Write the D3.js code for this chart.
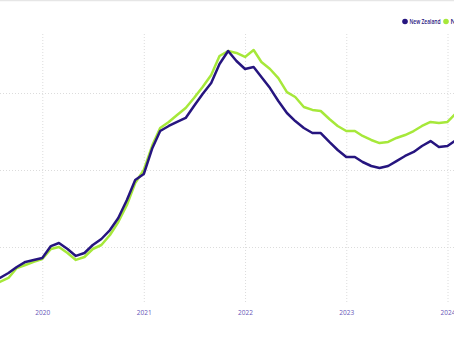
<!DOCTYPE html>
<html>
<head>
<meta charset="utf-8">
<script src="https://cdn.jsdelivr.net/npm/d3@7/dist/d3.min.js"></script>
<style>
  html, body { margin: 0; padding: 0; background: #fff; overflow: hidden; }
  svg { display: block; font-family: "Open Sans", "Noto Sans", sans-serif; }
</style>
</head>
<body>
<svg id="chart" width="454" height="341"></svg>
<script>
// Monthly house price index, July 2019 – February 2024
const months = [
  "2019-07","2019-08","2019-09","2019-10","2019-11","2019-12",
  "2020-01","2020-02","2020-03","2020-04","2020-05","2020-06",
  "2020-07","2020-08","2020-09","2020-10","2020-11","2020-12",
  "2021-01","2021-02","2021-03","2021-04","2021-05","2021-06",
  "2021-07","2021-08","2021-09","2021-10","2021-11","2021-12",
  "2022-01","2022-02","2022-03","2022-04","2022-05","2022-06",
  "2022-07","2022-08","2022-09","2022-10","2022-11","2022-12",
  "2023-01","2023-02","2023-03","2023-04","2023-05","2023-06",
  "2023-07","2023-08","2023-09","2023-10","2023-11","2023-12",
  "2024-01","2024-02"
];
const newZealand = [
  2773,2799,2831,2870,2903,2916,
  2929,3006,3026,2987,2942,2961,
  3013,3052,3110,3188,3305,3435,
  3474,3643,3753,3786,3812,3838,
  3916,3994,4065,4188,4273,4208,
  4156,4169,4104,4032,3948,3870,
  3818,3773,3740,3740,3682,3630,
  3584,3584,3552,3526,3513,3526,
  3558,3591,3617,3656,3688,3649,
  3656,3695
];
const nzExAuckland = [
  2740,2773,2799,2864,2883,2903,
  2922,2987,3000,2961,2916,2935,
  2987,3013,3078,3162,3273,3416,
  3500,3662,3773,3812,3857,3903,
  3968,4039,4117,4240,4273,4260,
  4234,4279,4201,4156,4097,4006,
  3974,3909,3890,3883,3831,3786,
  3753,3753,3721,3695,3675,3682,
  3708,3727,3753,3786,3812,3805,
  3812,3870
];
const seriesNames = ["New Zealand", "NZ excl. Auckland"];
const seriesColors = ["#26157f", "#a6e83a"];
const yGridValues = [3000, 3500, 4000];
const xTickYears = [2020, 2021, 2022, 2023, 2024];

const W = 454, H = 341;
const plotTop = 33, plotBottom = 302;
const svg = d3.select("#chart");
const parse = d3.timeParse("%Y-%m");

const x = d3.scaleTime()
  .domain([new Date(2020, 0, 1), new Date(2024, 0, 1)])
  .range([42.3, 447.5]);
const y = d3.scaleLinear()
  .domain([3000, 4000])
  .range([247, 93]);

// thin rule along the top edge
svg.append("line")
  .attr("x1", 0).attr("x2", W).attr("y1", 0.5).attr("y2", 0.5)
  .attr("stroke", "#e6e6e6").attr("stroke-width", 1.5);

// horizontal grid
svg.append("g")
  .selectAll("line")
  .data(yGridValues)
  .join("line")
  .attr("x1", 0).attr("x2", W)
  .attr("y1", d => Math.round(y(d)) + 0.5)
  .attr("y2", d => Math.round(y(d)) + 0.5)
  .attr("stroke", "#dcdcdc")
  .attr("stroke-dasharray", "1,2");

// x axis with dotted vertical grid lines
const xAxis = d3.axisBottom(x)
  .tickValues(xTickYears.map(yr => new Date(yr, 0, 1)))
  .tickFormat(d3.timeFormat("%Y"))
  .tickSize(-(plotBottom - plotTop))
  .tickPadding(8);

const gx = svg.append("g")
  .attr("transform", `translate(0,${plotBottom})`)
  .call(xAxis);
gx.select(".domain").remove();
gx.selectAll(".tick line")
  .attr("stroke", "#dcdcdc")
  .attr("stroke-dasharray", "1,2");
gx.selectAll(".tick text")
  .attr("fill", "#6656b8")
  .attr("font-size", 6.5)
  .attr("font-family", "Open Sans, sans-serif");

// lines
const line = d3.line()
  .x(d => x(d.date))
  .y(d => y(d.value));

[1, 0].forEach(idx => {
  const vals = idx === 0 ? newZealand : nzExAuckland;
  const pts = months.map((m, k) => ({ date: parse(m), value: vals[k] }));
  svg.append("path")
    .datum(pts)
    .attr("fill", "none")
    .attr("stroke", seriesColors[idx])
    .attr("stroke-width", 2.5)
    .attr("stroke-linejoin", "round")
    .attr("d", line);
});

// legend
const legend = svg.append("g")
  .attr("font-size", 6.5)
  .attr("font-weight", 600);
const legendX = [405, 446];
seriesNames.forEach((name, i) => {
  legend.append("circle")
    .attr("cx", legendX[i]).attr("cy", 21.5).attr("r", 2.8)
    .attr("fill", seriesColors[i]);
  const t = legend.append("text")
    .attr("x", legendX[i] + 4.5).attr("y", 23.8)
    .attr("fill", "#26157f")
    .text(name);
  if (i === 0) t.attr("textLength", 31).attr("lengthAdjust", "spacingAndGlyphs");
});
</script>
</body>
</html>
